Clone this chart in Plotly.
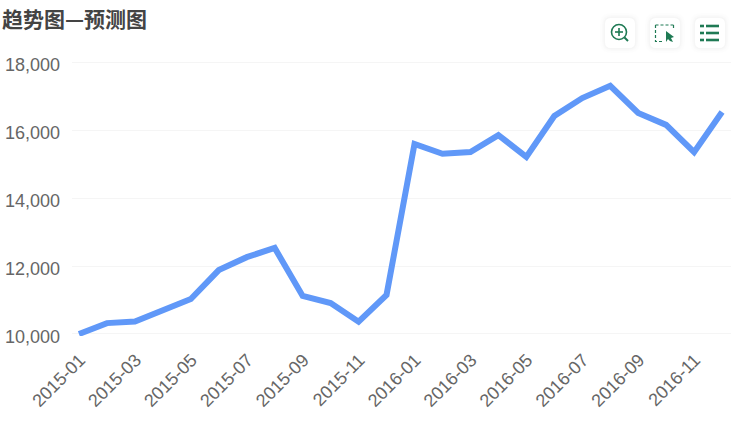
import plotly.graph_objects as go

W, H = 751, 421
months = ["2015-01","2015-02","2015-03","2015-04","2015-05","2015-06","2015-07","2015-08","2015-09","2015-10","2015-11","2015-12",
          "2016-01","2016-02","2016-03","2016-04","2016-05","2016-06","2016-07","2016-08","2016-09","2016-10","2016-11","2016-12"]
values = [10000,10320,10370,10680,11030,11880,12260,12530,11120,10910,10360,11150,
          15590,15300,15350,15850,15210,16410,16940,17300,16500,16150,15350,16530]
tick_months = months[::2]
y_ticks = [10000,12000,14000,16000,18000]

L, R, T, B = 72, 20, 60, 85
GREEN = "#1f7a54"

fig = go.Figure(go.Scatter(x=months, y=values, mode="lines", cliponaxis=False,
                           line=dict(color="#6098f8", width=6, shape="linear"),
                           hoverinfo="x+y"))

def px(x): return (x - L) / (W - L - R)
def py(y): return 1 - (y - T) / (H - T - B)

def P(points, close=False):
    s = "M" + " L".join(f"{px(x):.5f},{py(y):.5f}" for x, y in points)
    return s + (" Z" if close else "")

def rrect(x0, y0, x1, y1, r):
    return (f"M{px(x0+r):.5f},{py(y0):.5f} L{px(x1-r):.5f},{py(y0):.5f} "
            f"Q{px(x1):.5f},{py(y0):.5f} {px(x1):.5f},{py(y0+r):.5f} L{px(x1):.5f},{py(y1-r):.5f} "
            f"Q{px(x1):.5f},{py(y1):.5f} {px(x1-r):.5f},{py(y1):.5f} L{px(x0+r):.5f},{py(y1):.5f} "
            f"Q{px(x0):.5f},{py(y1):.5f} {px(x0):.5f},{py(y1-r):.5f} L{px(x0):.5f},{py(y0+r):.5f} "
            f"Q{px(x0):.5f},{py(y0):.5f} {px(x0+r):.5f},{py(y0):.5f} Z")

shapes = []
def add(path, fill="rgba(0,0,0,0)", color=None, width=0, dash=None):
    shapes.append(dict(type="path", xref="paper", yref="paper", path=path, fillcolor=fill,
                       line=dict(color=color or "rgba(0,0,0,0)", width=width, dash=dash or "solid"), layer="above"))

for cx in (620, 665, 710):
    for g, a in ((5, .008), (3, .012), (1.5, .016)):
        add(rrect(cx-15-g, 33-15-g, cx+15+g, 33+15+g, 6+g), fill=f"rgba(0,0,0,{a})")
    add(rrect(cx-15, 18, cx+15, 48, 6), fill="white")

# zoom icon
cx, cy, r = 619, 32, 7.5
shapes.append(dict(type="circle", xref="paper", yref="paper", x0=px(cx-r), x1=px(cx+r), y0=py(cy+r), y1=py(cy-r),
                   line=dict(color=GREEN, width=1.6), layer="above"))
add(P([(624.5,37.5),(628,41)]), color=GREEN, width=2)
add(P([(615,32),(623,32)]), color=GREEN, width=1.6)
add(P([(619,28),(619,36)]), color=GREEN, width=1.6)
# select icon
add(P([(655.5,25),(673.5,25)]), color=GREEN, width=1.2, dash="3px,2px")
add(P([(655.5,25),(655.5,41.5),(662,41.5)]), color=GREEN, width=1.2, dash="3px,2px")
add(P([(673.5,25),(673.5,29)]), color=GREEN, width=1.2, dash="3px,2px")
add(P([(666,31),(674,37),(671,38),(673,42),(670,41),(668,39),(666,42)], True), fill=GREEN)
# list icon
for y in (26, 33, 40):
    add(P([(700,y),(704,y)]), color=GREEN, width=2.6)
    add(P([(706,y),(719,y)]), color=GREEN, width=2.6)

fig.update_layout(
    width=W, height=H, autosize=False,
    margin=dict(l=L, r=R, t=T, b=B, pad=0, autoexpand=False),
    paper_bgcolor="white", plot_bgcolor="white",
    font=dict(family="Liberation Sans, Arial, sans-serif", color="#666666", size=18),
    showlegend=False,
    shapes=shapes,
    title=dict(text="<b>趋势图—预测图</b>", x=2/W, y=1-20/H, xanchor="left", yanchor="middle",
               font=dict(family="Noto Sans CJK SC, sans-serif", size=21, color="#444444")),
    xaxis=dict(type="category", categoryorder="array", categoryarray=months, automargin=False,
               range=[-0.25, 23.32], tickmode="array", tickvals=tick_months, ticktext=tick_months,
               tickangle=-45, showgrid=False, zeroline=False, showline=False, ticks="",
               ticklabelshift=1, ticklabelstandoff=9,
               tickfont=dict(size=18, color="#666666")),
    yaxis=dict(range=[9941, 18059], tickmode="array", tickvals=y_ticks, tickformat=",d", automargin=False,
               gridcolor="#f5f5f5", gridwidth=1, zeroline=False, showline=False, ticks="",
               ticklabelstandoff=11, ticklabelshift=3,
               tickfont=dict(size=18, color="#666666")),
)
fig.write_html("out.html", config=dict(displayModeBar=False),
               post_script="document.body.style.margin='0';document.body.style.overflow='hidden';")
